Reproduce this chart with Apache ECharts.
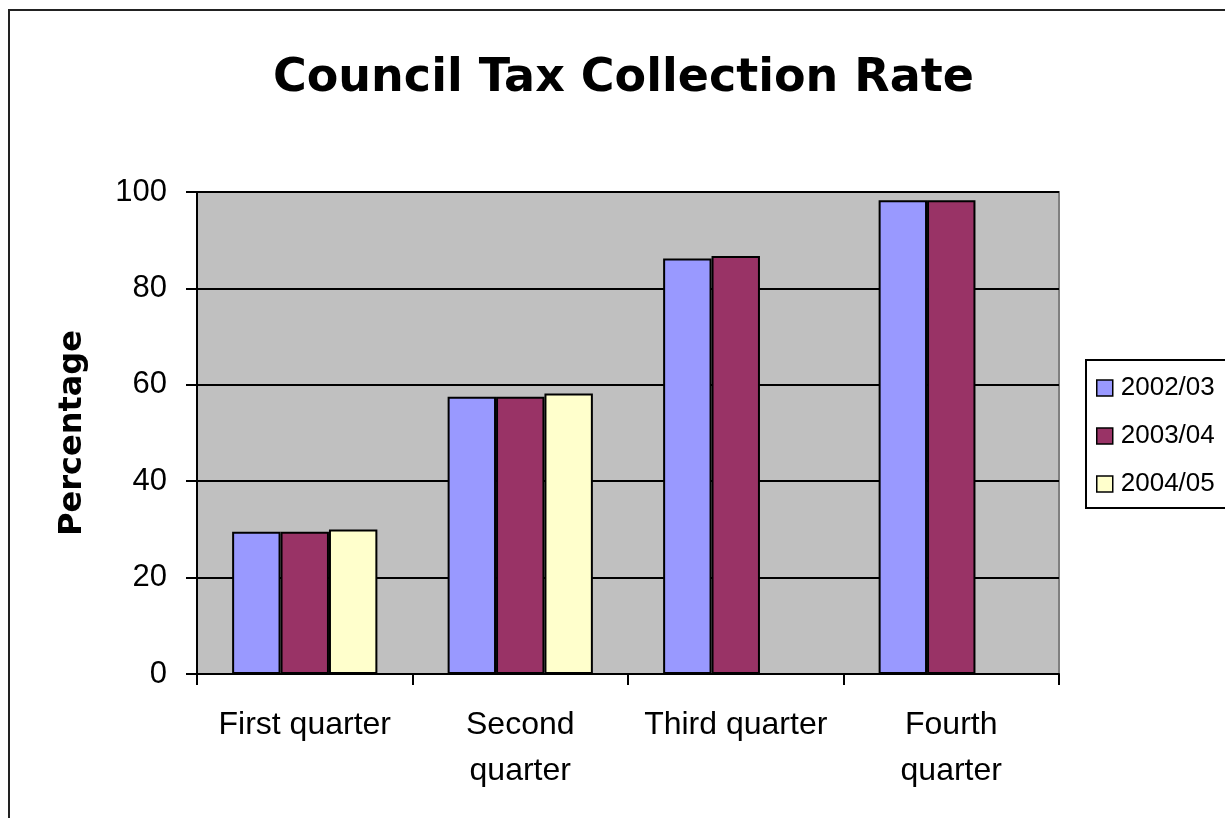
<!DOCTYPE html>
<html>
<head>
<meta charset="utf-8">
<style>
  html, body { margin: 0; padding: 0; background: #ffffff; }
  #chart { width: 1225px; height: 818px; }
</style>
<script src="https://cdn.jsdelivr.net/npm/echarts@6/dist/echarts.min.js"></script>
</head>
<body>
<div id="chart"></div>
<script>
// Quarterly cumulative collection rate (%) per financial year
var quarters = ['First quarter', 'Second\nquarter', 'Third quarter', 'Fourth\nquarter'];
var years = ['2002/03', '2003/04', '2004/05'];
var rate0203 = [29.5, 57.5, 86.2, 98.3];
var rate0304 = [29.5, 57.5, 86.7, 98.3];
var rate0405 = [30.0, 58.2, null, null];
var yTicks = [0, 20, 40, 60, 80, 100];

var colors = ['#9999FF', '#993366', '#FFFFCC'];
var seriesData = [rate0203, rate0304, rate0405];

var chart = echarts.init(document.getElementById('chart'), null, { renderer: 'canvas' });

var series = years.map(function (name, i) {
  return {
    name: name,
    type: 'bar',
    data: seriesData[i],
    barGap: '0%',
    barCategoryGap: '32.6%',
    itemStyle: { color: colors[i], borderColor: '#000000', borderWidth: 2 },
    emphasis: { disabled: true }
  };
});

chart.setOption({
  animation: false,
  backgroundColor: '#ffffff',
  title: {
    text: 'Council Tax Collection Rate',
    left: 273,
    top: 56,
    padding: 0,
    textStyle: { fontFamily: 'DejaVu Sans', fontWeight: 'bold', fontSize: 46, color: '#000000' }
  },
  graphic: [{
    type: 'rect',
    shape: { x: 9, y: 10, width: 1400, height: 1000 },
    style: { fill: null, stroke: '#222222', lineWidth: 2 },
    silent: true,
    z: 100
  }],
  legend: {
    orient: 'vertical',
    left: 1086,
    top: 360,
    padding: [15, 40, 11, 10],
    itemGap: 22,
    itemWidth: 16,
    itemHeight: 16,
    borderColor: '#000000',
    borderWidth: 2,
    icon: 'rect',
    itemStyle: { borderColor: '#000000', borderWidth: 1.5 },
    textStyle: { fontFamily: 'Liberation Sans', fontSize: 26, color: '#000000', padding: [0, 0, 0, 3] },
    data: years
  },
  grid: {
    left: 197,
    top: 192,
    right: 166,
    bottom: 144,
    show: true,
    backgroundColor: '#C0C0C0',
    borderColor: '#808080',
    borderWidth: 2
  },
  xAxis: {
    type: 'category',
    data: quarters,
    axisLine: { lineStyle: { color: '#000000', width: 2 } },
    axisTick: { show: true, length: 11, lineStyle: { color: '#000000', width: 2 } },
    axisLabel: {
      margin: 28,
      fontFamily: 'Liberation Sans',
      fontSize: 32,
      lineHeight: 46,
      color: '#000000',
      interval: 0
    }
  },
  yAxis: {
    type: 'value',
    min: yTicks[0],
    max: yTicks[yTicks.length - 1],
    interval: yTicks[1] - yTicks[0],
    name: 'Percentage',
    nameLocation: 'middle',
    nameGap: 108,
    nameTextStyle: { fontFamily: 'DejaVu Sans', fontWeight: 'bold', fontSize: 32, color: '#000000' },
    axisLine: { show: true, lineStyle: { color: '#000000', width: 2 } },
    axisTick: { show: true, length: 11, lineStyle: { color: '#000000', width: 2 } },
    splitLine: { show: true, lineStyle: { color: '#000000', width: 2 } },
    axisLabel: {
      margin: 30,
      fontFamily: 'Liberation Sans',
      fontSize: 31,
      color: '#000000'
    }
  },
  series: series
});
</script>
</body>
</html>
